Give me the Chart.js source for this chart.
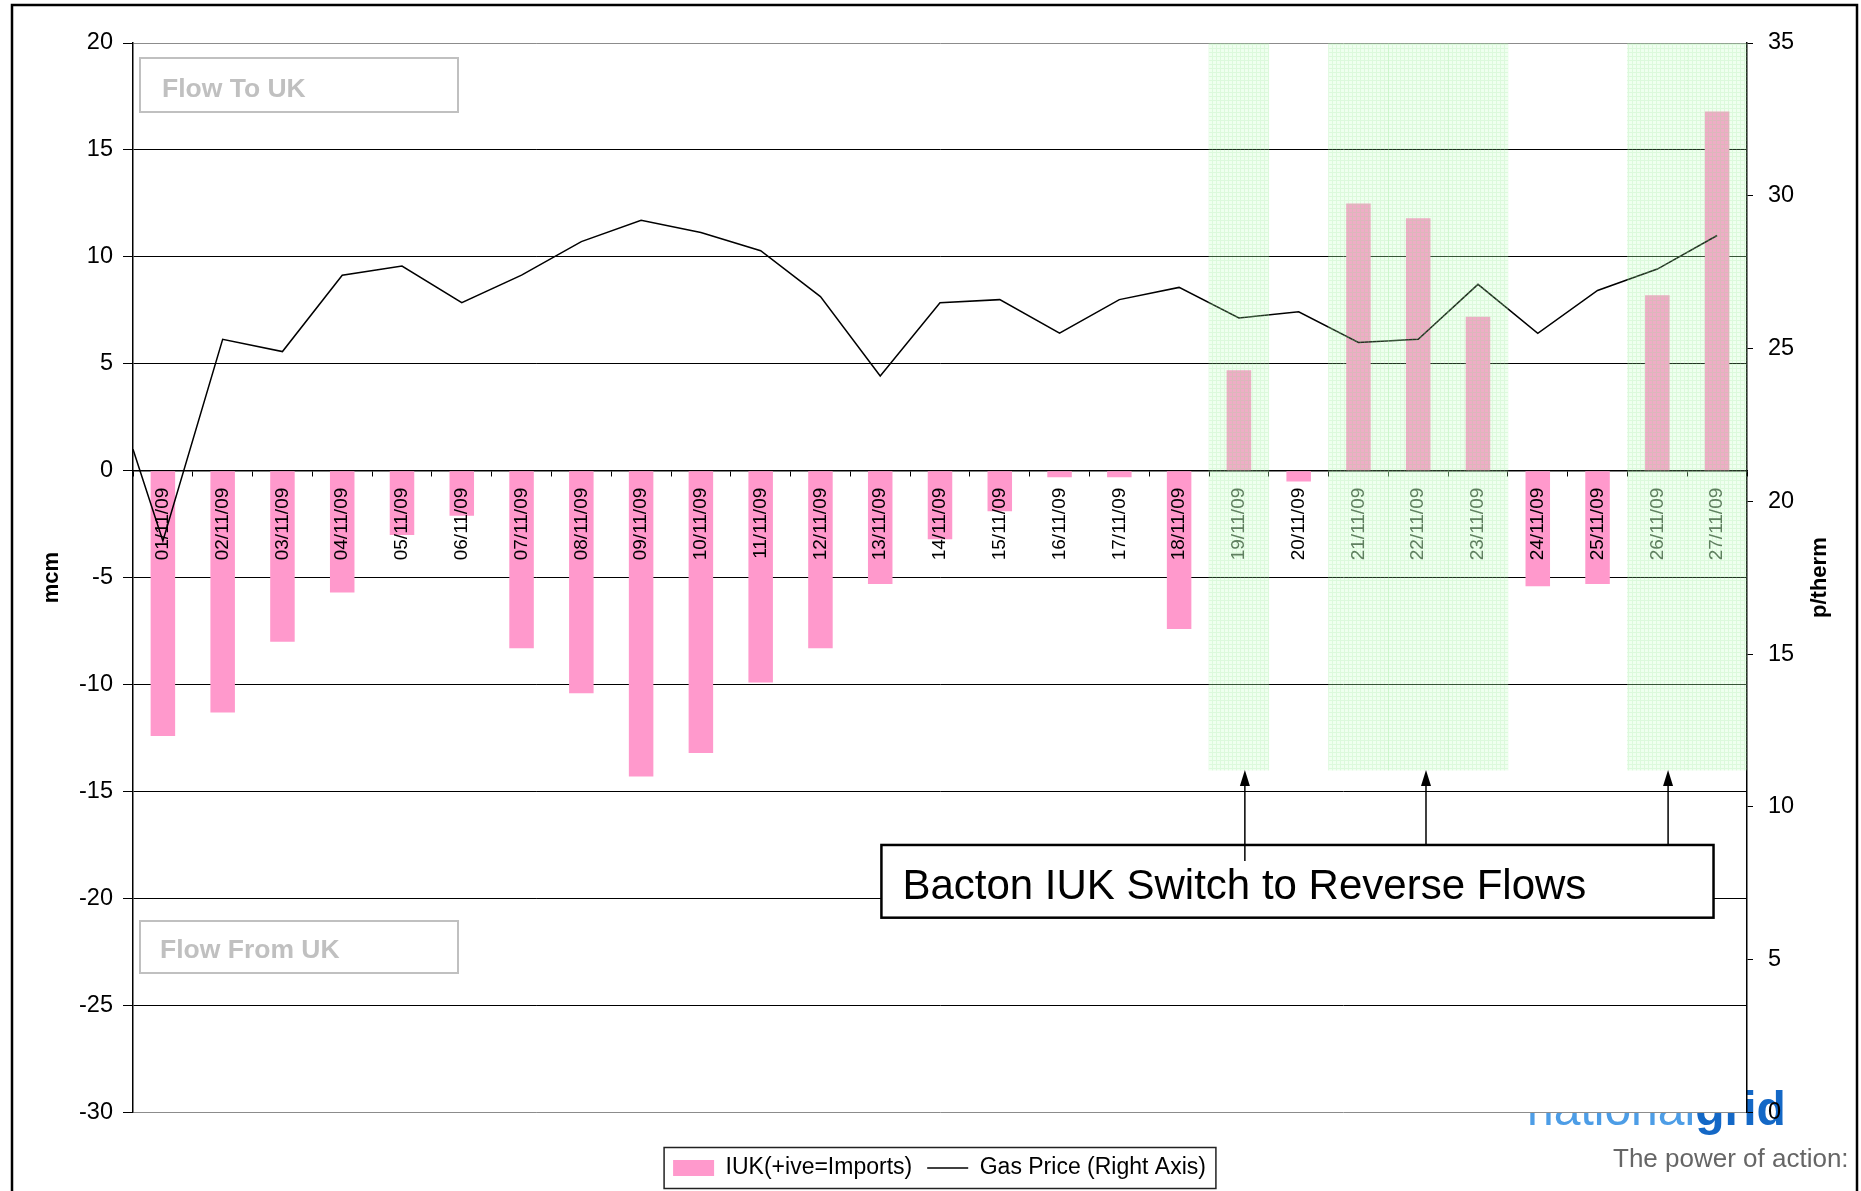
<!DOCTYPE html>
<html>
<head>
<meta charset="utf-8">
<script src="https://cdn.jsdelivr.net/npm/chart.js@4.4.1/dist/chart.umd.min.js"></script>
<style>
  body { margin: 0; background: #fff; overflow: hidden; }
  #wrap { width: 1861px; height: 1191px; }
</style>
</head>
<body>
<div id="wrap"><canvas id="c"></canvas></div>
<script>
var categories = ['01/11/09', '02/11/09', '03/11/09', '04/11/09', '05/11/09', '06/11/09', '07/11/09', '08/11/09', '09/11/09',
    '10/11/09', '11/11/09', '12/11/09', '13/11/09', '14/11/09', '15/11/09', '16/11/09', '17/11/09', '18/11/09',
    '19/11/09', '20/11/09', '21/11/09', '22/11/09', '23/11/09', '24/11/09', '25/11/09', '26/11/09', '27/11/09'];
// IUK flow, mcm (+ve = imports)
var iukFlow = [-12.4, -11.3, -8.0, -5.7, -3.0, -2.1, -8.3, -10.4, -14.3,
    -13.2, -9.9, -8.3, -5.3, -3.2, -1.9, -0.3, -0.3, -7.4,
    4.7, -0.5, 12.5, 11.8, 7.2, -5.4, -5.3, 8.2, 16.8];
// gas price, p/therm
var gasPrice = [18.7, 25.3, 24.9, 27.4, 27.7, 26.5, 27.4, 28.5, 29.2,
    28.8, 28.2, 26.7, 24.1, 26.5, 26.6, 25.5, 26.6, 27.0,
    26.0, 26.2, 25.2, 25.3, 27.1, 25.5, 26.9, 27.6, 28.7];
var priceAtLeftEdge = 21.7;   // where the price line enters at the left axis
var switchDays = ['19/11/09', '21/11/09', '22/11/09', '23/11/09', '26/11/09', '27/11/09'];
var switchRange = [-14, 20];
var flowAxis = { min: -30, max: 20, step: 5 };
var priceAxis = { min: 0, max: 35, step: 5 };

var FONT = '"Liberation Sans", Arial, sans-serif';
Chart.defaults.font.family = FONT;
Chart.defaults.color = '#000';

var cv = document.getElementById('c');

// excel-like light green pattern fill for the reverse flow bands
function bandPattern() {
    var tile = document.createElement('canvas');
    tile.width = 4; tile.height = 4;
    var g = tile.getContext('2d');
    g.fillStyle = 'rgba(175,255,175,0.2)';
    g.fillRect(0, 0, 4, 4);
    g.fillStyle = 'rgba(140,225,140,0.2)';
    g.fillRect(0, 0, 4, 1);
    g.fillRect(0, 1, 1, 3);
    return cv.getContext('2d').createPattern(tile, 'repeat');
}

var bandData = categories.map(function (c) { return switchDays.indexOf(c) >= 0 ? switchRange : null; });
var priceLine = [{ x: -0.5, y: priceAtLeftEdge }].concat(gasPrice.map(function (v, i) { return { x: i, y: v }; }));

function inBand(i) { return switchDays.indexOf(categories[i]) >= 0; }

var decor = {
    id: 'decor',
    beforeDraw: function (chart) {
        var ctx = chart.ctx, ca = chart.chartArea;
        ctx.save();
        ctx.fillStyle = '#fff';
        ctx.fillRect(0, 0, chart.width, chart.height);
        // logo, partly hidden under the plot area
        ctx.textBaseline = 'alphabetic';
        ctx.textAlign = 'left';
        ctx.font = '48px ' + FONT;
        ctx.fillStyle = '#4d9de6';
        ctx.fillText('national', 1527, 1125);
        var w = ctx.measureText('national').width;
        ctx.font = 'bold 48px ' + FONT;
        ctx.fillStyle = '#1468c6';
        ctx.fillText('grid', 1527 + w, 1125);
        ctx.font = '26px ' + FONT;
        ctx.fillStyle = '#666';
        ctx.fillText('The power of action:', 1613, 1167);
        ctx.fillStyle = '#fff';
        ctx.fillRect(ca.left, ca.top, ca.right - ca.left, ca.bottom - ca.top);
        ctx.restore();
    },
    afterDraw: function (chart) {
        var ctx = chart.ctx, ca = chart.chartArea;
        var xs = chart.scales.xl, ys = chart.scales.y;
        ctx.save();

        // flow direction boxes
        ctx.lineWidth = 2;
        ctx.strokeStyle = '#c0c0c0';
        ctx.fillStyle = '#c0c0c0';
        ctx.font = 'bold 26.5px ' + FONT;
        ctx.textBaseline = 'alphabetic';
        ctx.strokeRect(ca.left + 7, ca.top + 15, 318, 54);
        ctx.fillText('Flow To UK', ca.left + 29, ca.top + 54);
        ctx.strokeRect(ca.left + 7, 921, 318, 52);
        ctx.fillText('Flow From UK', ca.left + 27, 958);

        // call-out box
        var bx0 = xs.getPixelForValue(12.02), bx1 = xs.getPixelForValue(25.94);
        var by0 = ys.getPixelForValue(-17.5), by1 = ys.getPixelForValue(-20.9);
        ctx.fillStyle = '#fff';
        ctx.fillRect(bx0, by0, bx1 - bx0, by1 - by0);
        ctx.lineWidth = 2.5;
        ctx.strokeStyle = '#000';
        ctx.strokeRect(bx0, by0, bx1 - bx0, by1 - by0);
        ctx.fillStyle = '#000';
        ctx.font = '42px ' + FONT;
        ctx.fillText('Bacton IUK Switch to Reverse Flows', bx0 + 21, by0 + 54);

        // arrows up to the bands
        var tipY = ys.getPixelForValue(switchRange[0]);
        [18.1, 21.13, 25.18].forEach(function (v, k) {
            var ax = xs.getPixelForValue(v);
            ctx.lineWidth = 1.5;
            ctx.beginPath();
            ctx.moveTo(ax, k === 0 ? by0 + 16 : by0);
            ctx.lineTo(ax, tipY + 12);
            ctx.stroke();
            ctx.beginPath();
            ctx.moveTo(ax, tipY);
            ctx.lineTo(ax - 5, tipY + 16);
            ctx.lineTo(ax + 5, tipY + 16);
            ctx.closePath();
            ctx.fill();
        });

        // right axis title, reading upwards
        ctx.translate(1820, (ca.top + ca.bottom) / 2);
        ctx.rotate(-Math.PI / 2);
        ctx.textAlign = 'center';
        ctx.textBaseline = 'middle';
        ctx.font = 'bold 22px ' + FONT;
        ctx.fillText('p/therm', 0, 0);
        ctx.setTransform(1, 0, 0, 1, 0, 0);

        // legend frame
        var hb = chart.legend.legendHitBoxes;
        if (hb && hb.length) {
            var l = Math.min.apply(null, hb.map(function (h) { return h.left; })) - 9;
            var r = Math.max.apply(null, hb.map(function (h) { return h.left + h.width; })) + 10;
            ctx.lineWidth = 1.5;
            ctx.strokeStyle = '#222';
            ctx.strokeRect(l, hb[0].top - 9, r - l, hb[0].height + 18);
        }

        // outer frame
        ctx.lineWidth = 2.5;
        ctx.strokeStyle = '#000';
        ctx.strokeRect(12, 5, 1845, 1200);
        ctx.restore();
    }
};

new Chart(cv, {
    type: 'bar',
    data: {
        labels: categories,
        datasets: [{
            label: 'switch',
            data: bandData,
            backgroundColor: bandPattern(),
            borderWidth: 0,
            barPercentage: 1,
            categoryPercentage: 1,
            grouped: false,
            order: 0
        }, {
            label: 'IUK(+ive=Imports)',
            data: iukFlow,
            backgroundColor: '#ff99cc',
            borderWidth: 0,
            barPercentage: 0.41,
            categoryPercentage: 1,
            grouped: false,
            pointStyle: 'rect',
            order: 2
        }, {
            type: 'line',
            label: 'Gas Price (Right Axis)',
            data: priceLine,
            xAxisID: 'xl',
            yAxisID: 'y2',
            borderColor: '#000',
            backgroundColor: '#000',
            borderWidth: 1.5,
            pointRadius: 0,
            pointStyle: 'line',
            tension: 0,
            fill: false,
            order: 1
        }]
    },
    options: {
        responsive: true,
        maintainAspectRatio: false,
        animation: false,
        layout: { padding: { top: 43, left: 18, right: 0, bottom: 1.5 } },
        plugins: {
            tooltip: { enabled: false },
            legend: {
                position: 'bottom',
                title: { display: true, text: '', padding: { top: 28, bottom: 0 }, font: { size: 1 } },
                labels: {
                    font: { size: 23 },
                    color: '#000',
                    usePointStyle: true,
                    pointStyleWidth: 41,
                    boxHeight: 16,
                    padding: 15,
                    filter: function (item) { return item.datasetIndex !== 0; },
                    sort: function (a, b) { return a.datasetIndex - b.datasetIndex; }
                }
            }
        },
        scales: {
            x: {
                type: 'category',
                position: { y: 0 },
                offset: true,
                grid: { drawOnChartArea: false, drawTicks: true, tickLength: 5, tickColor: '#000', offset: true },
                border: { color: '#000', width: 1.5 },
                ticks: {
                    z: 1,
                    autoSkip: false,
                    minRotation: 90,
                    maxRotation: 90,
                    padding: 12,
                    font: { size: 19 },
                    color: function (c) { return inBand(c.index) ? '#5f7f5f' : '#000'; }
                }
            },
            xl: {
                type: 'linear', display: false, offset: false,
                grid: { offset: false },
                min: -0.5, max: categories.length - 0.5
            },
            y: {
                position: 'left',
                min: flowAxis.min,
                max: flowAxis.max,
                ticks: { stepSize: flowAxis.step, font: { size: 23.5 }, color: '#000', padding: 10 },
                grid: {
                    color: function (c) { return (c.tick && (c.tick.value === flowAxis.max || c.tick.value === flowAxis.min)) ? '#8c8c8c' : '#000'; },
                    lineWidth: 1,
                    tickLength: 10,
                    tickColor: '#000'
                },
                border: { color: '#000', width: 1.5 },
                title: { display: true, text: 'mcm', font: { size: 22, weight: 'bold' }, color: '#000', padding: { top: 21, bottom: 0 } },
                afterFit: function (s) { s.width = 115; }
            },
            y2: {
                position: 'right',
                min: priceAxis.min,
                max: priceAxis.max,
                ticks: { stepSize: priceAxis.step, font: { size: 23.5 }, color: '#000', padding: 15 },
                grid: { drawOnChartArea: false, tickLength: 6, tickColor: '#000' },
                border: { color: '#000', width: 1.5 },
                afterFit: function (s) { s.width = 114; }
            }
        }
    },
    plugins: [decor]
});
</script>
</body>
</html>
